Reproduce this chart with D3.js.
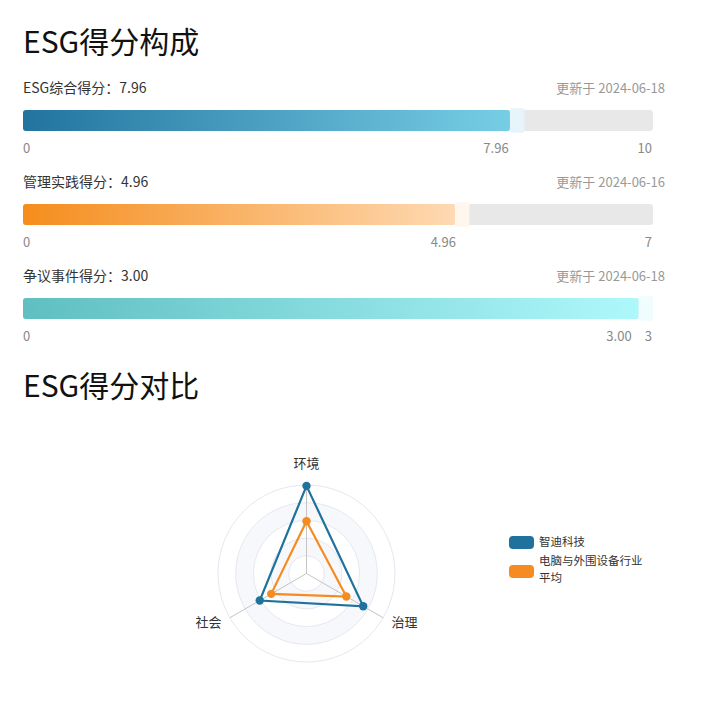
<!DOCTYPE html>
<html>
<head>
<meta charset="utf-8">
<script src="https://cdn.jsdelivr.net/npm/d3@7"></script>
<style>
  body { margin: 0; background: #fff; }
  svg { display: block; font-family: "Noto Sans CJK SC", "Noto Sans", sans-serif; }
</style>
</head>
<body>
<svg width="706" height="709"></svg>
<script>
// score bars
const scoreNames = ['ESG综合得分', '管理实践得分', '争议事件得分']
const scoreValues = [7.96, 4.96, 3.00]
const scoreMax = [10, 7, 3]
const updateDates = ['2024-06-18', '2024-06-16', '2024-06-18']
// radar
const radarDims = ['环境', '治理', '社会']
const companyScores = [9.9, 7.4, 6.1]
const industryScores = [5.9, 5.2, 4.6]
const seriesNames = ['智迪科技', '电脑与外围设备行业平均']
const radarMax = 10

const barColors = [
    {from: '#22749f', to: '#76cee5', marker: '#e7f4fa'},
    {from: '#f58d1c', to: '#fed9b2', marker: '#fff6ee'},
    {from: '#5fbfc1', to: '#aef8fb', marker: '#effdfe'}
]
const seriesColors = ['#21719d', '#f68b1f']

const svg = d3.select('svg')
const defs = svg.append('defs')

svg.append('text').attr('x', 23).attr('y', 53)
    .attr('font-size', 30).attr('fill', '#111').text('ESG得分构成')

scoreNames.forEach((name, i) => {
    const top = 110 + i * 94
    const barH = 21
    const x = d3.scaleLinear().domain([0, scoreMax[i]]).range([23, 653])
    const labelX = d3.scaleLinear().domain([0, scoreMax[i]]).range([16, 619])
    const g = svg.append('g')

    g.append('text').attr('x', 23).attr('y', top - 17)
        .attr('font-size', 14).attr('fill', '#333')
        .text(name + '：' + scoreValues[i].toFixed(2))
    g.append('text').attr('x', 665).attr('y', top - 17)
        .attr('text-anchor', 'end').attr('font-size', 13).attr('fill', '#999')
        .text('更新于 ' + updateDates[i])

    g.append('rect').attr('x', x(0)).attr('y', top)
        .attr('width', x(scoreMax[i]) - x(0)).attr('height', barH)
        .attr('rx', 3).attr('fill', '#e8e8e8')

    const markW = 14.5
    const end = x(scoreValues[i])
    const grad = defs.append('linearGradient').attr('id', 'bar' + i)
    grad.append('stop').attr('offset', '0%').attr('stop-color', barColors[i].from)
    grad.append('stop').attr('offset', '100%').attr('stop-color', barColors[i].to)

    g.append('rect').attr('x', end - markW).attr('y', top - 1.7)
        .attr('width', markW).attr('height', barH + 3.4)
        .attr('rx', 2).attr('fill', barColors[i].marker)
    g.append('rect').attr('x', x(0)).attr('y', top)
        .attr('width', end - markW - x(0)).attr('height', barH)
        .attr('rx', 3).attr('fill', 'url(#bar' + i + ')')

    const tick = g.append('g').attr('font-size', 13).attr('fill', '#888')
    tick.append('text').attr('x', x(0)).attr('y', top + 43).text('0')
    tick.append('text').attr('x', labelX(scoreValues[i])).attr('y', top + 43)
        .attr('text-anchor', 'middle').text(scoreValues[i].toFixed(2))
    tick.append('text').attr('x', x(scoreMax[i]) - 1).attr('y', top + 43)
        .attr('text-anchor', 'end').text(scoreMax[i])
})

svg.append('text').attr('x', 23).attr('y', 397)
    .attr('font-size', 30).attr('fill', '#111').text('ESG得分对比')

drawRadar()

function drawRadar() {
    const cx = 306.5, cy = 573.5, R = 88.5
    const r = d3.scaleLinear().domain([0, radarMax]).range([0, R])
    const angle = d3.scaleLinear().domain([0, radarDims.length]).range([-Math.PI / 2, 1.5 * Math.PI])
    const pt = (v, k) => [cx + r(v) * Math.cos(angle(k)), cy + r(v) * Math.sin(angle(k))]
    const g = svg.append('g')

    const rings = d3.range(5, 0, -1).map(k => radarMax * k / 5)
    g.selectAll('circle.band').data(rings).enter().append('circle')
        .attr('cx', cx).attr('cy', cy).attr('r', d => r(d))
        .attr('fill', (d, k) => k % 2 ? '#f7f8fc' : '#fff')
        .attr('stroke', '#e4e8f1').attr('stroke-width', 1)

    radarDims.forEach((d, k) => {
        const [px, py] = pt(radarMax, k)
        g.append('line').attr('x1', cx).attr('y1', cy).attr('x2', px).attr('y2', py)
            .attr('stroke', '#c4c4c4').attr('stroke-width', 1)
        const [lx, ly] = pt(radarMax * 1.2, k)
        g.append('text').attr('x', k === 0 ? lx : lx + (k === 1 ? 6 : -6))
            .attr('y', ly - 3)
            .attr('text-anchor', 'middle').attr('dominant-baseline', 'middle')
            .attr('font-size', 13).attr('fill', '#333').text(d)
    })

    const line = d3.line().curve(d3.curveLinearClosed)
    ;[companyScores, industryScores].forEach((vals, s) => {
        const pts = vals.map((v, k) => pt(v, k))
        g.append('path').attr('d', line(pts)).attr('fill', 'none')
            .attr('stroke', seriesColors[s]).attr('stroke-width', 2.2)
        g.selectAll(null).data(pts).enter().append('circle')
            .attr('cx', d => d[0]).attr('cy', d => d[1]).attr('r', 4.2)
            .attr('fill', seriesColors[s])
    })

    // legend
    const lg = svg.append('g').attr('font-size', 11.5).attr('fill', '#333')
    lg.append('rect').attr('x', 509).attr('y', 536).attr('width', 25).attr('height', 13)
        .attr('rx', 4).attr('fill', seriesColors[0])
    lg.append('text').attr('x', 539).attr('y', 543).attr('dominant-baseline', 'middle').text(seriesNames[0])
    lg.append('rect').attr('x', 509).attr('y', 565).attr('width', 25).attr('height', 13)
        .attr('rx', 4).attr('fill', seriesColors[1])
    lg.append('text').attr('x', 539).attr('y', 562).attr('dominant-baseline', 'middle').text(seriesNames[1].slice(0, 9))
    lg.append('text').attr('x', 539).attr('y', 579).attr('dominant-baseline', 'middle').text(seriesNames[1].slice(9))
}
</script>
</body>
</html>
